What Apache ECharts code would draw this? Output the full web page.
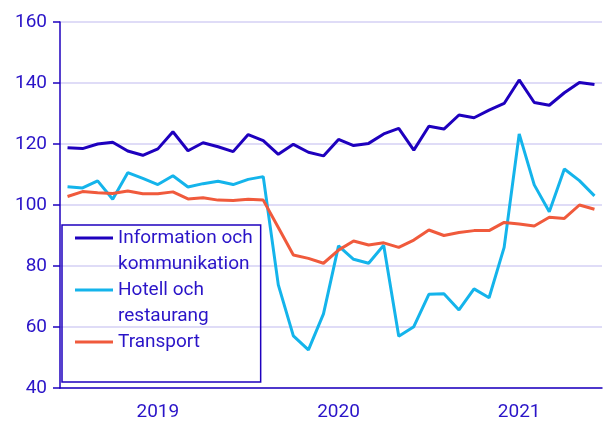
<!DOCTYPE html>
<html>
<head>
<meta charset="utf-8">
<script src="https://cdn.jsdelivr.net/npm/echarts@6/dist/echarts.min.js"></script>
<style>
  html, body { margin: 0; padding: 0; background: #fff; }
  #chart { width: 603px; height: 423px; }
</style>
</head>
<body>
<div id="chart"></div>
<script>
const months = [
  '2019-01', '2019-02', '2019-03', '2019-04', '2019-05', '2019-06',
  '2019-07', '2019-08', '2019-09', '2019-10', '2019-11', '2019-12',
  '2020-01', '2020-02', '2020-03', '2020-04', '2020-05', '2020-06',
  '2020-07', '2020-08', '2020-09', '2020-10', '2020-11', '2020-12',
  '2021-01', '2021-02', '2021-03', '2021-04', '2021-05', '2021-06',
  '2021-07', '2021-08', '2021-09', '2021-10', '2021-11', '2021-12'
]
const years = ['2019', '2020', '2021']

const info = [
  118.8, 118.5, 120.0, 120.6, 117.7, 116.3, 118.4, 124.0, 117.8, 120.4, 119.1, 117.5,
  123.1, 121.1, 116.6, 119.9, 117.3, 116.1, 121.5, 119.5, 120.2, 123.3, 125.1, 118.0,
  125.8, 124.9, 129.5, 128.6, 131.1, 133.3, 141.0, 133.6, 132.7, 136.8, 140.2, 139.5
]
const hotell = [
  106.0, 105.6, 107.9, 101.9, 110.6, 108.7, 106.7, 109.6, 105.9, 107.0, 107.8, 106.7,
  108.4, 109.3, 73.8, 57.1, 52.5, 64.3, 86.6, 82.2, 80.9, 86.8, 57.0, 60.1,
  70.7, 70.9, 65.6, 72.5, 69.6, 86.1, 123.3, 106.6, 97.8, 111.8, 108.0, 103.0
]
const transport = [
  102.8, 104.4, 104.0, 103.8, 104.6, 103.7, 103.7, 104.3, 102.0, 102.4, 101.6, 101.5,
  101.9, 101.6, 92.6, 83.6, 82.5, 80.9, 85.2, 88.2, 86.9, 87.6, 86.1, 88.5,
  91.8, 90.0, 91.0, 91.6, 91.6, 94.3, 93.8, 93.1, 96.0, 95.6, 100.0, 98.6
]

const blue = '#1e00be'
const textBlue = '#2a14c8'
// legend line sits on the first text row of a 52px tall item
const legendIcon = 'path://M0,0L0,0M0,11.5H38V14.5H0ZM38,52L38,52'

const chart = echarts.init(document.getElementById('chart'))
const option = {
  animation: false,
  textStyle: { fontFamily: 'Roboto' },
  grid: { left: 60, right: 1, top: 22, bottom: 35 },
  legend: {
    orient: 'vertical',
    left: 62,
    top: 225,
    padding: [0, 8, 1, 13],
    itemGap: 0,
    itemWidth: 38,
    itemHeight: 52,
    icon: legendIcon,
    itemStyle: { borderWidth: 0 },
    borderColor: blue,
    borderWidth: 1.5,
    textStyle: { color: textBlue, fontSize: 19, lineHeight: 26, fontFamily: 'Roboto' },
    formatter: name => ({
      'Information och kommunikation': 'Information och\nkommunikation',
      'Hotell och restaurang': 'Hotell och\nrestaurang',
      'Transport': 'Transport\n '
    })[name],
    data: ['Information och kommunikation', 'Hotell och restaurang', 'Transport']
  },
  xAxis: [
    {
      // monthly axis: carries the data, year label under each July
      type: 'category',
      data: months,
      boundaryGap: true,
      axisLine: { show: false },
      axisTick: { show: false },
      axisLabel: {
        color: textBlue,
        fontSize: 19,
        margin: 15,
        interval: i => i % 12 === 6,
        formatter: v => v.slice(0, 4)
      }
    },
    {
      // yearly axis: line and year boundary ticks
      type: 'category',
      data: years,
      position: 'bottom',
      boundaryGap: true,
      axisLine: { lineStyle: { color: blue, width: 1.5 } },
      axisTick: { length: 6, lineStyle: { color: blue, width: 1.5 } },
      axisLabel: { show: false }
    }
  ],
  yAxis: {
    type: 'value',
    min: 40,
    max: 160,
    interval: 20,
    axisLine: { show: true, lineStyle: { color: blue, width: 1.5 } },
    axisTick: { show: true, length: 7, lineStyle: { color: blue, width: 1.5 } },
    axisLabel: { color: textBlue, fontSize: 19, margin: 13 },
    splitLine: { lineStyle: { color: '#d4d0f4', width: 1.5 } }
  },
  series: [
    {
      name: 'Information och kommunikation',
      type: 'line',
      data: info,
      showSymbol: false,
      color: '#1e00be',
      lineStyle: { width: 3 }
    },
    {
      name: 'Hotell och restaurang',
      type: 'line',
      data: hotell,
      showSymbol: false,
      color: '#14b4eb',
      lineStyle: { width: 3 }
    },
    {
      name: 'Transport',
      type: 'line',
      data: transport,
      showSymbol: false,
      color: '#f05a3c',
      lineStyle: { width: 3 }
    }
  ]
}
chart.setOption(option)
</script>
</body>
</html>
